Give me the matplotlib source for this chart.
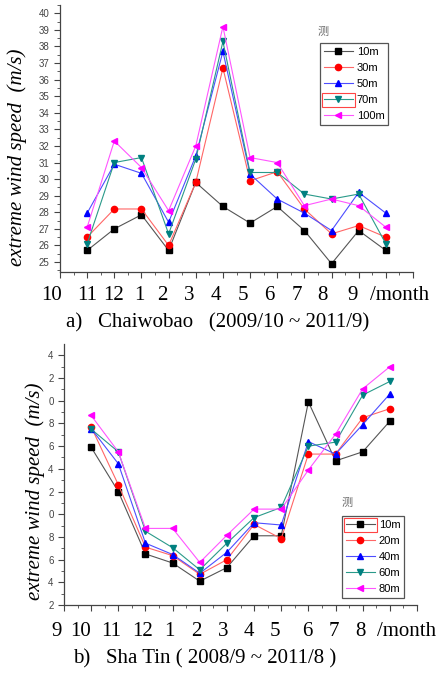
import matplotlib
matplotlib.use('Agg')
import matplotlib.pyplot as plt
from matplotlib.patches import Rectangle

plt.rcParams['font.family'] = ['Liberation Sans', 'Noto Sans CJK SC', 'DejaVu Sans']

# ---- data: Chaiwobao (2009/10 ~ 2011/9) ----
idx = list(range(1, 13))
chai_labels = ['10m', '30m', '50m', '70m', '100m']
chai_10 = [25.7, 27.0, 27.85, 25.7, 29.8, 28.35, 27.35, 28.35, 26.9, 24.9, 26.9, 25.7]
chai_30 = [26.5, 28.2, 28.2, 26.0, 29.8, 36.7, 29.9, 30.45, 28.2, 26.7, 27.2, 26.5]
chai_50 = [27.95, 30.9, 30.35, 27.4, 31.4, 37.7, 30.3, 28.8, 27.95, 26.9, 29.2, 27.95]
chai_70 = [26.1, 31.0, 31.3, 26.7, 31.2, 38.3, 30.4, 30.4, 29.1, 28.8, 29.1, 26.1]
chai_100 = [27.1, 32.3, 30.7, 28.1, 32.0, 39.2, 31.3, 31.0, 28.4, 28.8, 28.4, 27.1]
chai_months = ['10', '11', '12', '1', '2', '3', '4', '5', '6', '7', '8', '9']

# ---- data: Sha Tin (2008/9 ~ 2011/8) ----
sha_labels = ['10m', '20m', '40m', '60m', '80m']
sha_10 = [15.9, 12.0, 6.5, 5.7, 4.1, 5.3, 8.1, 8.1, 19.9, 14.7, 15.5, 18.2]
sha_20 = [17.7, 12.6, 7.1, 6.35, 4.7, 6.0, 9.1, 7.85, 15.3, 15.3, 18.5, 19.3]
sha_40 = [17.55, 14.45, 7.45, 6.45, 4.8, 6.65, 9.25, 9.05, 16.4, 15.3, 17.9, 20.6]
sha_60 = [17.5, 15.5, 8.5, 7.05, 5.1, 7.45, 9.7, 10.6, 16.0, 16.35, 20.5, 21.7]
sha_80 = [18.7, 15.5, 8.75, 8.75, 5.75, 8.15, 10.45, 10.45, 13.9, 17.05, 21.05, 23.0]
sha_months = ['9', '10', '11', '12', '1', '2', '3', '4', '5', '6', '7', '8']
sha_yticks = list(range(2, 25, 2))

colors = ['black', 'red', 'blue', '#008080', 'magenta']
linecols = ['#555555', '#ff6666', '#4d4dff', '#2a9a8a', '#ff55ff']
markers = ['s', 'o', '^', 'v', '<']

W, H = 440, 673
fig = plt.figure(figsize=(4.4, 6.73), dpi=100)


def fx(px):
    return px / W


def fy(py):
    return 1 - py / H


def style_axes(ax):
    for s in ['top', 'right']:
        ax.spines[s].set_visible(False)
    for s in ['left', 'bottom']:
        ax.spines[s].set_color('#444444')
        ax.spines[s].set_linewidth(0.9)
    ax.set_xlim(0, 13)
    ax.set_xticks(range(0, 14))
    ax.set_xticks([x + 0.5 for x in range(0, 13)], minor=True)
    ax.set_xticklabels([])
    ax.tick_params(axis='both', which='major', direction='out', length=4,
                   width=0.8, color='#444444', labelsize=7, labelcolor='#444444')
    ax.tick_params(axis='both', which='minor', direction='out', length=2.5,
                   width=0.6, color='#444444')


def draw_series(ax, series, labels):
    for i, ys in enumerate(series):
        ax.plot(idx, ys, color=linecols[i], lw=0.8, marker=markers[i], ms=4.5,
                mfc=colors[i], mec=colors[i], label=labels[i])


def legend_with_box(ax, anchor, boxed):
    leg = ax.legend(loc='upper left', bbox_to_anchor=anchor, borderaxespad=0,
                    fancybox=False, edgecolor='#555555', fontsize=8,
                    handlelength=2.6, handletextpad=0.35, labelspacing=0.55,
                    borderpad=0.35, framealpha=1)
    leg.get_frame().set_linewidth(0.9)
    fig.canvas.draw()
    fb = leg.get_frame().get_window_extent()
    tb = leg.get_texts()[boxed].get_window_extent()
    inv = fig.transFigure.inverted()
    (x0, y0) = inv.transform((fb.x0 + 2, tb.y0 - 2))
    (x1, y1) = inv.transform((tb.x0 - 2, tb.y1 + 2))
    fig.patches.append(Rectangle((x0, y0), x1 - x0, y1 - y0, transform=fig.transFigure,
                                 fill=False, ec='#ff4444', lw=0.8))
    return leg


# ---- top panel ----
ax1 = fig.add_axes([fx(60), fy(272), fx(413) - fx(60), fy(5) - fy(272)])
draw_series(ax1, [chai_10, chai_30, chai_50, chai_70, chai_100], chai_labels)
style_axes(ax1)
ax1.set_ylim(24.4, 40.5)
ax1.set_yticks(range(25, 41))
ax1.set_yticks([y + 0.5 for y in range(24, 41)], minor=True)
legend_with_box(ax1, (0.737, 0.858), 3)
fig.text(fx(318), fy(32), '测', fontsize=8, color='#666666', family=['Noto Sans CJK SC'],
         ha='left', va='center')

# ---- bottom panel ----
ax2 = fig.add_axes([fx(64), fy(605), fx(417) - fx(64), fy(344) - fy(605)])
draw_series(ax2, [sha_10, sha_20, sha_40, sha_60, sha_80], sha_labels)
style_axes(ax2)
ax2.set_ylim(2, 25)
ax2.set_yticks(sha_yticks)
ax2.set_yticklabels([str(v)[-1] for v in sha_yticks])
ax2.set_yticks([v + 1 for v in sha_yticks[:-1]], minor=True)
legend_with_box(ax2, (0.788, 0.341), 0)
fig.text(fx(342), fy(503), '测', fontsize=8, color='#666666', family=['Noto Sans CJK SC'],
         ha='left', va='center')

# ---- y labels ----
serif = ['Liberation Serif', 'DejaVu Serif']
fig.text(fx(17), fy(157), 'extreme wind speed  (m/s)', rotation=90, style='italic',
         family=serif, fontsize=15, ha='center', va='center')
fig.text(fx(35), fy(491), 'extreme wind speed  (m/s)', rotation=90, style='italic',
         family=serif, fontsize=15, ha='center', va='center')

# ---- month labels and captions ----
top_pos = [52, 87, 114, 139, 162, 189, 216, 243, 269, 297, 322, 353]
for m, px in zip(chai_months, top_pos):
    fig.text(fx(px), fy(296), m, family=serif, fontsize=15, ha='center', va='center')
fig.text(fx(400), fy(296), '/month', family=serif, fontsize=15, ha='center', va='center')
fig.text(fx(218), fy(323), 'a)   Chaiwobao   (2009/10 ~ 2011/9)', family=serif,
         fontsize=15, ha='center', va='center')

bot_pos = [57, 81, 111, 143, 169, 196, 223, 249, 275, 307, 334, 360]
for m, px in zip(sha_months, bot_pos):
    fig.text(fx(px), fy(632), m, family=serif, fontsize=15, ha='center', va='center')
fig.text(fx(407), fy(632), '/month', family=serif, fontsize=15, ha='center', va='center')
fig.text(fx(205), fy(659), 'b)   Sha Tin ( 2008/9 ~ 2011/8 )', family=serif,
         fontsize=15, ha='center', va='center')

fig.savefig('out.png', dpi=100)
